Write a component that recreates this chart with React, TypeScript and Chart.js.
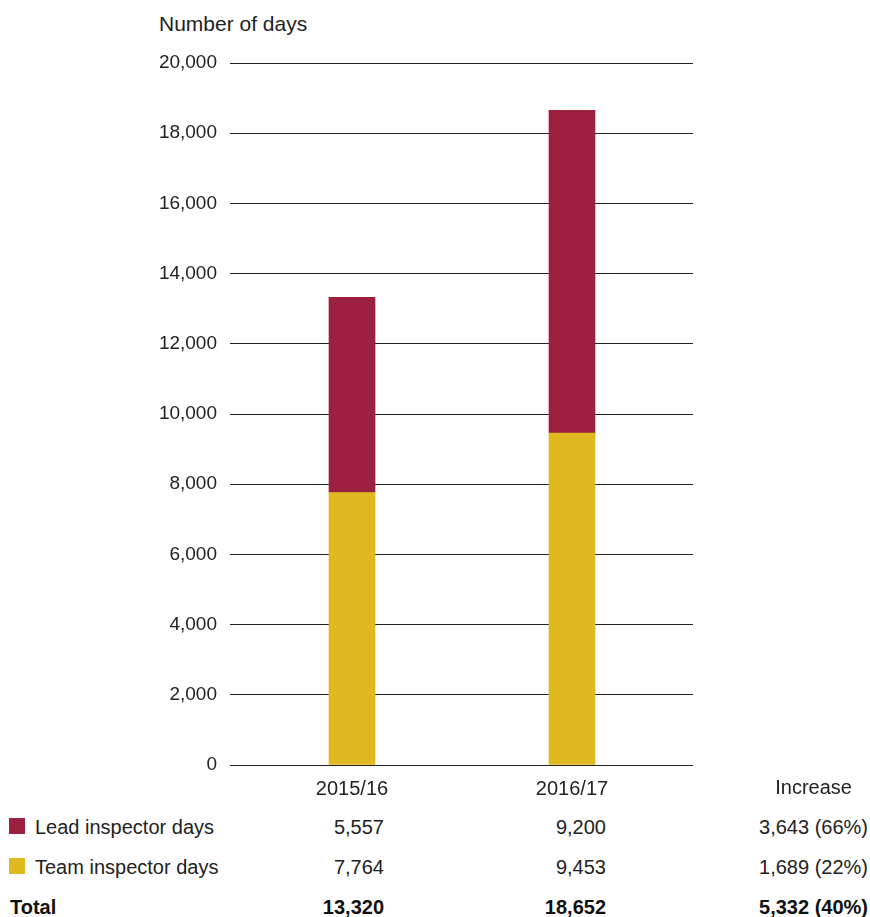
import React, { useEffect, useRef } from "react";
import { Chart, registerables } from "chart.js";

Chart.register(...registerables);

const categories = ["2015/16", "2016/17"];
const leadDays = [5557, 9200];
const teamDays = [7764, 9453];
const totals = [13320, 18652];
const increases = ["3,643 (66%)", "1,689 (22%)", "5,332 (40%)"];
const seriesNames = ["Lead inspector days", "Team inspector days"];
const yMin = 0;
const yMax = 20000;
const yStep = 2000;

const LEAD_COLOR = "#9c2141";
const TEAM_COLOR = "#e0b820";
const FONT = '"Liberation Sans", Arial, Helvetica, sans-serif';
const TEXT = "#222222";

const fmt = (v: number) => v.toLocaleString("en-US");

export default function App() {
  const ref = useRef<HTMLCanvasElement | null>(null);

  useEffect(() => {
    if (!ref.current) return;
    const chart = new Chart(ref.current, {
      type: "bar",
      data: {
        datasets: [
          {
            label: seriesNames[1],
            data: teamDays.map((v, i) => ({ x: i, y: v })),
            backgroundColor: TEAM_COLOR,
            barThickness: 46,
          },
          {
            label: seriesNames[0],
            data: leadDays.map((v, i) => ({ x: i, y: v })),
            backgroundColor: LEAD_COLOR,
            barThickness: 46,
          },
        ],
      },
      options: {
        animation: false,
        responsive: true,
        maintainAspectRatio: false,
        layout: { padding: { left: 160, right: 177, top: 63, bottom: 5 } },
        plugins: {
          legend: { display: false },
          tooltip: { enabled: false },
          title: { display: false },
        },
        scales: {
          x: {
            type: "linear",
            stacked: true,
            offset: false,
            min: -0.5545,
            max: 1.55,
            afterBuildTicks: (scale: any) => {
              scale.ticks = categories.map((_, i) => ({ value: i }));
            },
            afterFit: (scale: any) => {
              scale.height = 40;
            },
            grid: { display: false, drawTicks: false, offset: false },
            border: { display: false },
            ticks: {
              padding: 12,
              color: TEXT,
              font: { family: FONT, size: 20 },
              callback: (v: any) => categories[Number(v)] ?? "",
            },
          },
          y: {
            stacked: true,
            min: yMin,
            max: yMax,
            afterFit: (scale: any) => {
              scale.width = 70;
            },
            grid: { color: "#222222", lineWidth: 1, drawTicks: false },
            border: { display: false },
            ticks: {
              stepSize: yStep,
              padding: 13,
              color: TEXT,
              font: { family: FONT, size: 19 },
              callback: (v: any) => fmt(Number(v)),
            },
          },
        },
      },
    } as any);
    return () => chart.destroy();
  }, []);

  const base: React.CSSProperties = {
    position: "absolute",
    fontFamily: FONT,
    fontSize: 20,
    lineHeight: "24px",
    color: TEXT,
    whiteSpace: "nowrap",
  };
  const rightCell = (right: number, top: number, text: string, bold = false) => (
    <div
      style={{
        ...base,
        right: 870 - right,
        top,
        textAlign: "right",
        fontWeight: bold ? 700 : 400,
        color: bold ? "#111" : TEXT,
      }}
    >
      {text}
    </div>
  );

  const rowTops = [815, 855, 895];

  return (
    <div style={{ position: "absolute", left: 0, top: 0, width: 870, height: 917, background: "#fff", overflow: "hidden" }}>
      <div style={{ ...base, left: 159, top: 12, fontSize: 21 }}>Number of days</div>
      <div style={{ position: "absolute", left: 0, top: 0, width: 870, height: 810 }}>
        <canvas ref={ref} />
      </div>
      {rightCell(852, 775, "Increase")}

      <div style={{ position: "absolute", left: 9, top: 818, width: 16, height: 16, background: LEAD_COLOR }} />
      <div style={{ ...base, left: 35, top: rowTops[0] }}>{seriesNames[0]}</div>
      {rightCell(384, rowTops[0], fmt(leadDays[0]))}
      {rightCell(606, rowTops[0], fmt(leadDays[1]))}
      {rightCell(868, rowTops[0], increases[0])}

      <div style={{ position: "absolute", left: 9, top: 858, width: 16, height: 16, background: TEAM_COLOR }} />
      <div style={{ ...base, left: 35, top: rowTops[1] }}>{seriesNames[1]}</div>
      {rightCell(384, rowTops[1], fmt(teamDays[0]))}
      {rightCell(606, rowTops[1], fmt(teamDays[1]))}
      {rightCell(868, rowTops[1], increases[1])}

      <div style={{ ...base, left: 10, top: rowTops[2], fontWeight: 700, color: "#111" }}>Total</div>
      {rightCell(384, rowTops[2], fmt(totals[0]), true)}
      {rightCell(606, rowTops[2], fmt(totals[1]), true)}
      {rightCell(868, rowTops[2], increases[2], true)}
    </div>
  );
}
